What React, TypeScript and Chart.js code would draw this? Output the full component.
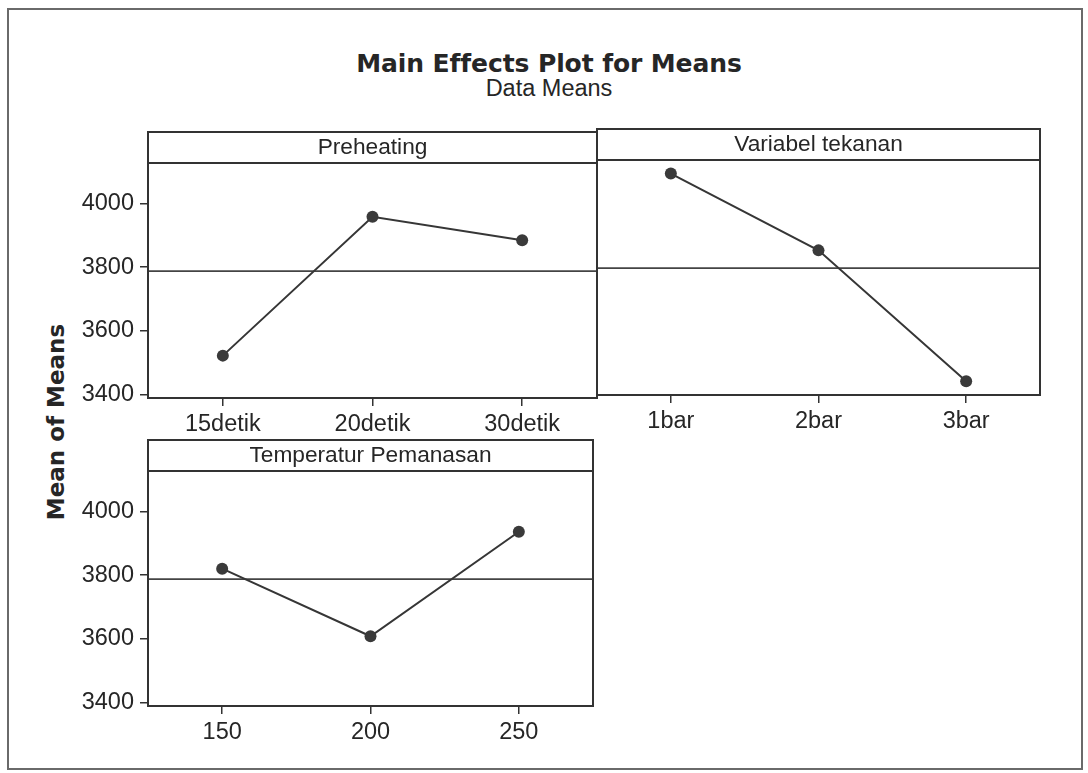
import React, { useEffect, useRef } from "react";
import { Chart, registerables } from "chart.js";

Chart.register(...registerables);

// ---------- data ----------
const chartTitle = "Main Effects Plot for Means";
const chartSubtitle = "Data Means";
const yAxisTitle = "Mean of Means";

const preheatingTitle = "Preheating";
const preheatingLevels = ["15detik", "20detik", "30detik"];
const preheatingMeans = [3522, 3958, 3884];

const tekananTitle = "Variabel tekanan";
const tekananLevels = ["1bar", "2bar", "3bar"];
const tekananMeans = [4084, 3843, 3432];

const temperaturTitle = "Temperatur Pemanasan";
const temperaturLevels = ["150", "200", "250"];
const temperaturMeans = [3820, 3608, 3936];

const grandMean = 3787;
const yTickValues = [3400, 3600, 3800, 4000];
const yMin = 3389;
const yMax = 4224;

// ---------- styles ----------
const BOLD_FONT = "'DejaVu Sans', Verdana, sans-serif";
const FONT = "'Liberation Sans', Arial, sans-serif";
const INK = "#262626";
const FRAME = "#333333";
const STRIP_H = 31;

const panelFrame = {
  id: "panelFrame",
  afterDraw(chart: any, _args: any, opts: any) {
    const { ctx, chartArea: a } = chart;
    ctx.save();
    ctx.strokeStyle = FRAME;
    ctx.lineWidth = 2;
    ctx.strokeRect(a.left, a.top, a.right - a.left, a.bottom - a.top);
    ctx.beginPath();
    ctx.moveTo(a.left, a.top + STRIP_H);
    ctx.lineTo(a.right, a.top + STRIP_H);
    ctx.stroke();
    ctx.fillStyle = INK;
    ctx.font = `22.7px ${FONT}`;
    ctx.textAlign = "center";
    ctx.textBaseline = "alphabetic";
    ctx.fillText(opts.title || "", (a.left + a.right) / 2, a.top + 22);
    ctx.restore();
  },
};

type PanelProps = {
  title: string;
  levels: string[];
  means: number[];
  left: number;
  top: number;
  width: number;
  height: number;
  showY: boolean;
};

function Panel({ title, levels, means, left, top, width, height, showY }: PanelProps) {
  const ref = useRef<HTMLCanvasElement>(null);
  const padL = showY ? 90 : 3;
  const padT = 3;
  const padR = 3;
  const padB = 50;
  const cw = padL + width + padR;
  const ch = padT + height + padB;

  useEffect(() => {
    if (!ref.current) return;
    const tickFont = { family: FONT, size: 23.5 };
    const chart = new Chart(ref.current, {
      type: "line",
      data: {
        datasets: [
          {
            data: means.map((y, i) => ({ x: i, y })),
            borderColor: "#363636",
            borderWidth: 2,
            pointRadius: 6,
            pointBackgroundColor: "#3a3a3a",
            pointBorderColor: "#3a3a3a",
            pointBorderWidth: 0,
            tension: 0,
          },
          {
            data: [
              { x: -0.5, y: grandMean },
              { x: 2.5, y: grandMean },
            ],
            borderColor: "#444444",
            borderWidth: 1.8,
            pointRadius: 0,
            tension: 0,
          },
        ],
      },
      options: {
        responsive: false,
        animation: false,
        devicePixelRatio: 1,
        events: [],
        layout: { padding: { left: 0, top: padT, right: padR, bottom: 0 }, autoPadding: false },
        plugins: {
          legend: { display: false },
          tooltip: { enabled: false },
          title: { display: false },
          panelFrame: { title },
        } as any,
        scales: {
          x: {
            type: "linear",
            min: -0.5,
            max: 2.5,
            afterBuildTicks: (s: any) => {
              s.ticks = levels.map((_, i) => ({ value: i }));
            },
            afterFit: (s: any) => {
              s.height = padB;
              s.paddingLeft = 0;
              s.paddingRight = 0;
            },
            ticks: {
              callback: (_v: any, i: number) => levels[i] ?? "",
              font: tickFont,
              color: INK,
              padding: 4,
              maxRotation: 0,
              autoSkip: false,
            },
            grid: {
              drawOnChartArea: false,
              drawTicks: true,
              tickLength: 8,
              color: FRAME,
              lineWidth: 1.5,
            },
            border: { display: false },
          },
          y: {
            type: "linear",
            min: yMin,
            max: yMax,
            afterBuildTicks: (s: any) => {
              s.ticks = yTickValues.map((value) => ({ value }));
            },
            afterFit: (s: any) => {
              s.width = padL;
              s.paddingTop = 0;
              s.paddingBottom = 0;
            },
            ticks: {
              display: showY,
              callback: (v: any) => String(v),
              font: tickFont,
              color: INK,
              padding: 6,
            },
            grid: {
              display: showY,
              drawOnChartArea: false,
              drawTicks: true,
              tickLength: 8,
              color: FRAME,
              lineWidth: 1.5,
            },
            border: { display: false },
          },
        },
      } as any,
      plugins: [panelFrame as any],
    });
    return () => chart.destroy();
  }, []);

  return (
    <canvas
      ref={ref}
      width={cw}
      height={ch}
      style={{ position: "absolute", left: left - padL, top: top - padT, width: cw, height: ch }}
    />
  );
}

export default function App() {
  return (
    <div
      style={{
        position: "absolute",
        left: 0,
        top: 0,
        width: 1088,
        height: 773,
        background: "#ffffff",
        overflow: "hidden",
        fontFamily: FONT,
        color: INK,
      }}
    >
      <div
        style={{
          position: "absolute",
          left: 7,
          top: 8,
          width: 1076,
          height: 762,
          border: "2px solid #6a6a6a",
          boxSizing: "border-box",
        }}
      />
      <div
        style={{
          position: "absolute",
          left: 10,
          width: 1078,
          top: 51,
          textAlign: "center",
          font: `bold 25px ${BOLD_FONT}`,
          lineHeight: "25px",
          letterSpacing: "-0.1px",
          whiteSpace: "nowrap",
        }}
      >
        {chartTitle}
      </div>
      <div
        style={{
          position: "absolute",
          left: 10,
          width: 1078,
          top: 77,
          textAlign: "center",
          font: `23.5px ${FONT}`,
          lineHeight: "23.5px",
          whiteSpace: "nowrap",
        }}
      >
        {chartSubtitle}
      </div>
      <div
        style={{
          position: "absolute",
          left: 56,
          top: 422,
          transform: "translate(-50%, -50%) rotate(-90deg)",
          font: `bold 23px ${BOLD_FONT}`,
          lineHeight: "23px",
          letterSpacing: "0px",
          whiteSpace: "nowrap",
        }}
      >
        {yAxisTitle}
      </div>

      <Panel
        title={preheatingTitle}
        levels={preheatingLevels}
        means={preheatingMeans}
        left={148}
        top={132}
        width={449}
        height={266}
        showY={true}
      />
      <Panel
        title={tekananTitle}
        levels={tekananLevels}
        means={tekananMeans}
        left={597}
        top={129}
        width={443}
        height={266}
        showY={false}
      />
      <Panel
        title={temperaturTitle}
        levels={temperaturLevels}
        means={temperaturMeans}
        left={148}
        top={440}
        width={445}
        height={266}
        showY={true}
      />
    </div>
  );
}
